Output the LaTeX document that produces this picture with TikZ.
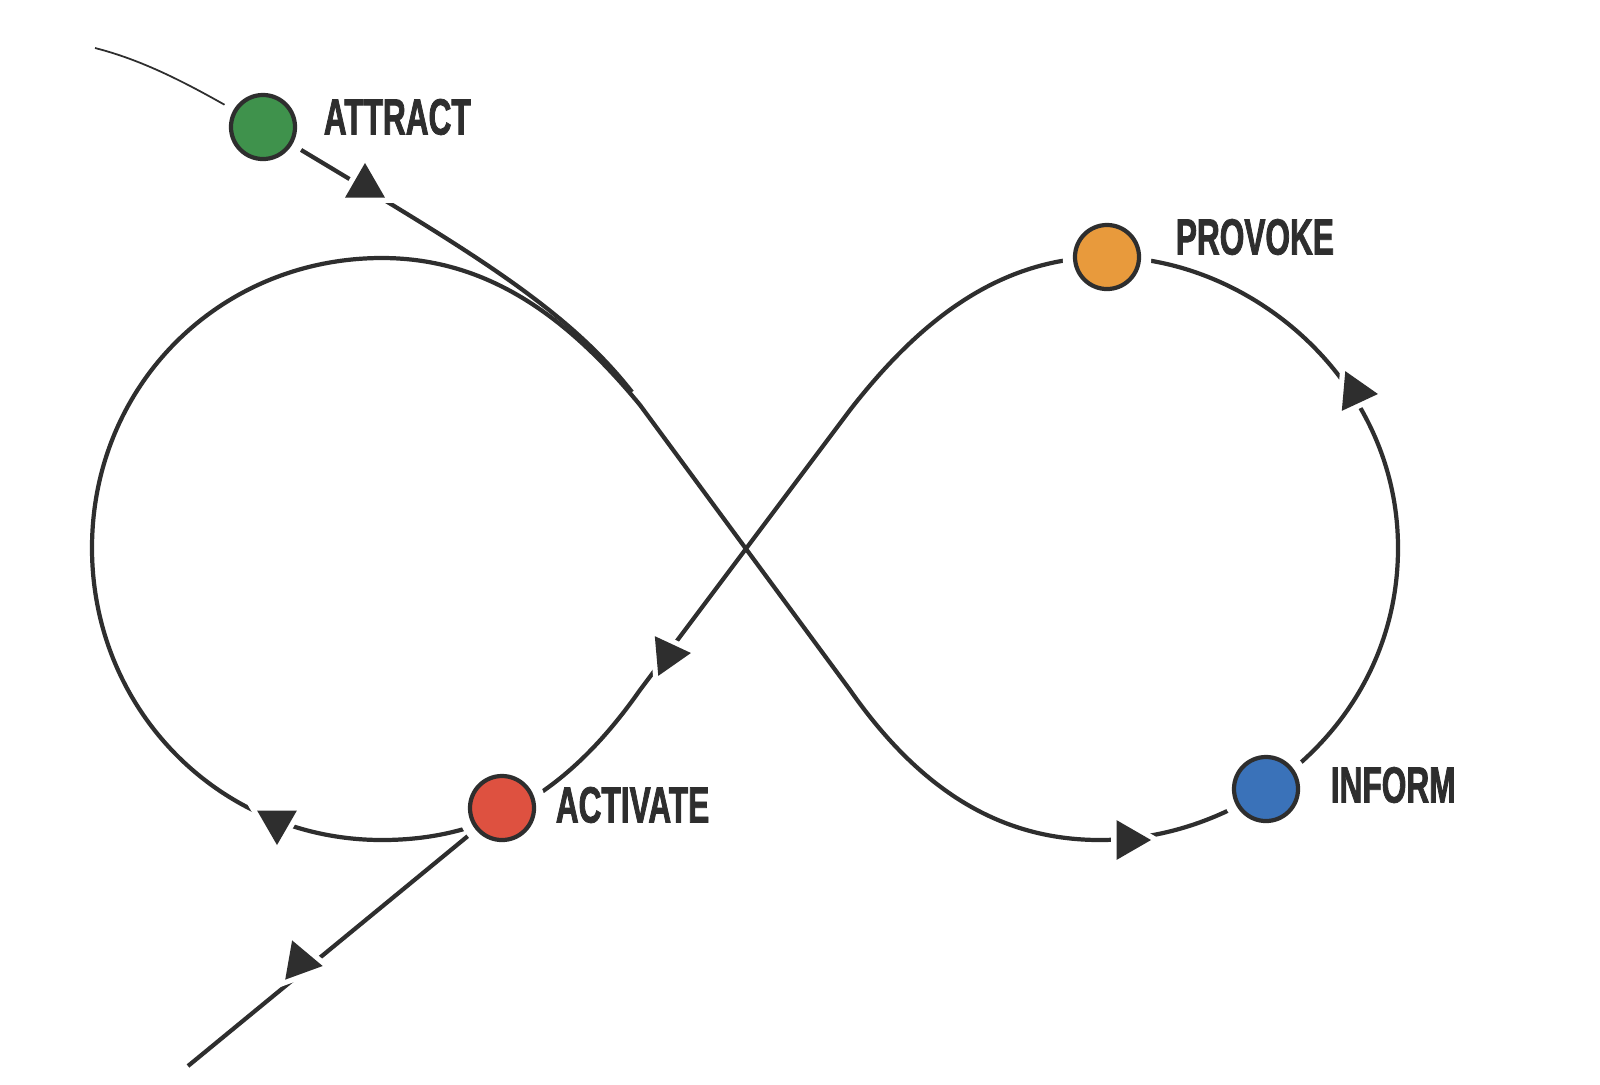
\documentclass[tikz,border=0pt]{standalone}
\usepackage{fontspec}
\usepackage{tikz}
\usetikzlibrary{positioning,shapes.geometric}
\newfontfamily\stagefont{Liberation Sans}[FakeStretch=0.62,FakeBold=1.5]
\definecolor{ink}{HTML}{2E2E2E}
\definecolor{stgreen}{HTML}{3F924C}
\definecolor{storange}{HTML}{E89A3C}
\definecolor{stblue}{HTML}{3A72B9}
\definecolor{stred}{HTML}{DE5140}

\begin{document}
\begin{tikzpicture}[
    x=0.01cm, y=-0.01cm,
    stage/.style={circle, draw=ink, line width=1.2pt, minimum size=0.64cm, inner sep=0pt,
        preaction={draw=white, line width=7pt}},
    stagelabel/.style={font=\stagefont\bfseries\fontsize{14.5}{14.5}\selectfont, text=ink, anchor=west, inner sep=0pt},
    flow/.style={draw=ink, line width=1.2pt},
    tip/.style={regular polygon, regular polygon sides=3, fill=ink, inner sep=0pt, minimum size=0.46cm,
        preaction={draw=white, line width=3pt}}
    ]
        \useasboundingbox (0,0) rectangle (1600,1084);

        %Points
        \coordinate (start) at (95,48);
        \coordinate (exit)  at (188,1066);
        \coordinate (cNW) at (640,405);
        \coordinate (cSE) at (850,690);
        \coordinate (cNE) at (850,410);
        \coordinate (cSW) at (640,690);

        %Loop
        \draw[flow] (cNW) -- (cSE)
            .. controls (920,790) and (1000,840) .. (1100,840)
            .. controls (1250,840) and (1398,720) .. (1398,548)
            .. controls (1398,380) and (1250,257) .. (1107,257)
            .. controls (1000,257) and (920,320) .. (cNE) -- (cSW)
            .. controls (570,790) and (490,840) .. (382,840)
            .. controls (220,840) and (92,710) .. (92,548)
            .. controls (92,385) and (220,258) .. (382,258)
            .. controls (490,258) and (570,320) .. (cNW);

        %Entry and exit
        \draw[draw=ink, line width=0.5pt] (start) .. controls (150,62) and (200,90) .. (263,127);
        \draw[flow] (263,127) .. controls (450,240) and (560,300) .. (632,392);
        \draw[flow] (502,808) -- (exit);

        %Nodes
        \node[stage, fill=stgreen]  (attract)  at (263,127) {};
        \node[stage, fill=storange] (provoke)  at (1107,257) {};
        \node[stage, fill=stblue]   (inform)   at (1266,789) {};
        \node[stage, fill=stred]    (activate) at (502,808) {};

        \node[stagelabel] (lAttract)  [right=0.26cm of attract,  yshift=0.1cm]  {ATTRACT};
        \node[stagelabel] (lProvoke)  [right=0.34cm of provoke,  yshift=0.2cm]  {PROVOKE};
        \node[stagelabel] (lInform)   [right=0.30cm of inform,   yshift=0.04cm] {INFORM};
        \node[stagelabel] (lActivate) [right=0.19cm of activate, yshift=0.03cm] {ACTIVATE};

        %Arrow tips
        \node[tip]                (t1) at (365,186) {};
        \node[tip, rotate=-90]    (t2) at (1128,840) {};
        \node[tip, rotate=-95]    (t3) at (1355,392) {};
        \node[tip, rotate=-85]    (t4) at (668,655) {};
        \node[tip, rotate=180]    (t5) at (277,822) {};
        \node[tip, rotate=140]    (t6) at (300,962) {};
    \end{tikzpicture}
\end{document}
